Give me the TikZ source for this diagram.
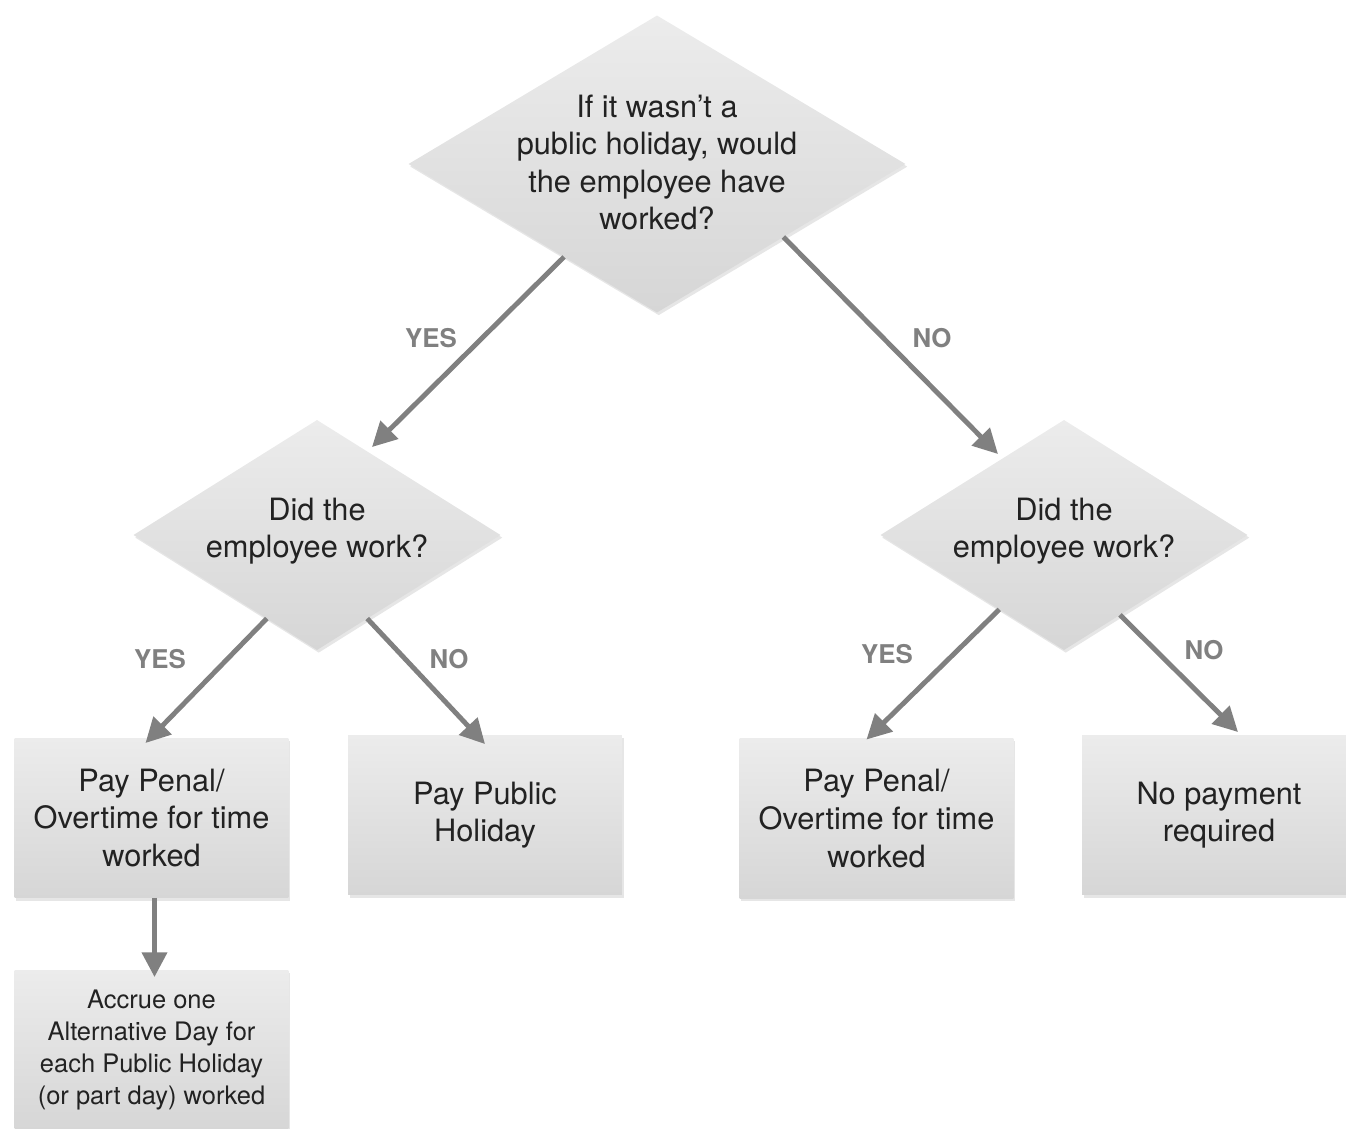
\documentclass[tikz,border=0pt]{standalone}
\usepackage{fontspec}
\setmainfont{TeX Gyre Heros}
\definecolor{fctop}{RGB}{236,236,236}
\definecolor{fcbot}{RGB}{214,214,214}
\definecolor{fctext}{RGB}{34,34,34}
\definecolor{fcgray}{RGB}{128,128,128}
\usetikzlibrary{arrows.meta,positioning,shapes.geometric,calc,shadows}
\newcommand{\dtext}[2][0pt]{\makebox[0pt]{\smash{\raisebox{-#1}{\begin{tabular}{@{}c@{}}#2\end{tabular}}}}}

\begin{document}
\begin{tikzpicture}[x=0.02cm, y=-0.02cm,
  qdiam/.style={diamond, inner sep=0pt, outer sep=0pt, top color=fctop, bottom color=fcbot, text=fctext, drop shadow={shadow xshift=1pt, shadow yshift=-1.5pt, opacity=0.2}, font=\fontsize{17.5}{21.4}\selectfont},
  abox/.style={rectangle, minimum width=5.48cm, minimum height=3.2cm, inner sep=0pt, outer sep=0pt, top color=fctop, bottom color=fcbot, text=fctext, drop shadow={shadow xshift=1pt, shadow yshift=-1.5pt, opacity=0.2}, align=center, font=\fontsize{17.5}{21.4}\selectfont},
  arr/.style={draw=fcgray, line width=2.8pt, -{Triangle[length=14pt, width=14pt]}},
  lbl/.style={text=fcgray, font=\fontsize{14.7}{16}\selectfont\bfseries}]
  \useasboundingbox (0,0) rectangle (1346,1129);

  % questions
  \node[qdiam, minimum width=9.94cm, minimum height=5.94cm] (q1) at (657,164) {\dtext[5.5pt]{If it wasn’t a\\public holiday, would\\the employee have\\worked?}};
  \node[qdiam, minimum width=7.34cm, minimum height=4.6cm] (q2) at (317,535) {\dtext[2.3pt]{Did the\\employee work?}};
  \node[qdiam, minimum width=7.34cm, minimum height=4.6cm] (q3) at (1064,535) {\dtext[2.3pt]{Did the\\employee work?}};

  % outcomes
  \node[abox] (b1) at (151.5,818) {Pay Penal/\\Overtime for time\\worked};
  \node[abox] (b2) at (485,815) {Pay Public\\Holiday};
  \node[abox] (b3) at (876.5,818.5) {Pay Penal/\\Overtime for time\\worked};
  \node[abox] (b4) at (1219,815) {No payment\\required};
  \node[abox, font=\fontsize{14.5}{18.2}\selectfont] (b5) at (151.5,1050) {Accrue one\\Alternative Day for\\each Public Holiday\\(or part day) worked};

  % connectors
  \draw[arr] (q1.-135) -- ($(q2.north)+(55,27)$);
  \draw[arr] (q1.-30) -- ($(q3.north)+(-66,34)$);
  \draw[arr] (q2.-121) -- ($(b1.north)+(-6,5)$);
  \draw[arr] (q2.-59) -- ($(b2.north)+(0,9)$);
  \draw[arr] (q3.-131) -- ($(b3.north)+(-10,1)$);
  \draw[arr] (q3.-55) -- ($(b4.north)+(19,-3)$);
  \draw[arr] ($(b1.south)+(3,0)$) -- ($(b5.north)+(3,7)$);

  % labels
  \node[lbl] (l1) at (431,338) {YES};
  \node[lbl] (l2) at (932,338) {NO};
  \node[lbl] (l3) at (160,659) {YES};
  \node[lbl] (l4) at (449,659) {NO};
  \node[lbl] (l5) at (887,654) {YES};
  \node[lbl] (l6) at (1204,650) {NO};
\end{tikzpicture}
\end{document}
